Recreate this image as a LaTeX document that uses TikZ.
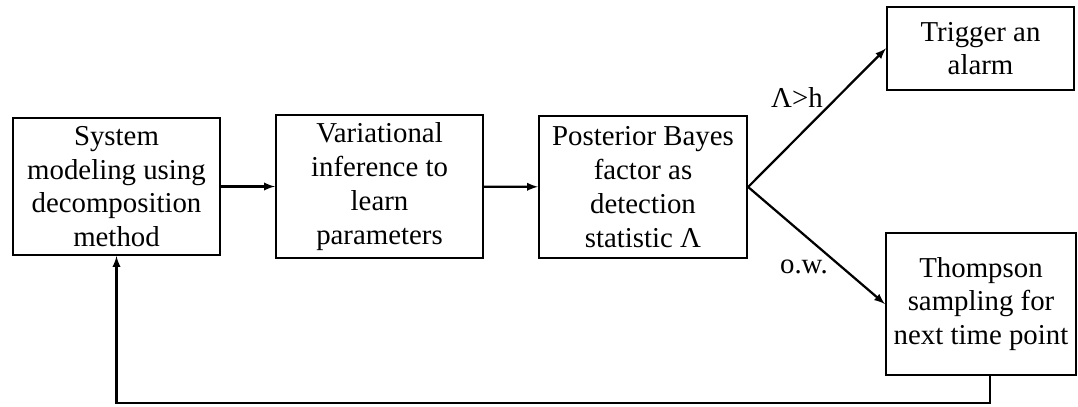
\documentclass[tikz,border=0pt]{standalone}
\usepackage{fontspec}
\setmainfont{Liberation Serif}
\usepackage{tikz}
\usetikzlibrary{shapes,arrows}
\usetikzlibrary{calc}
\usetikzlibrary{positioning}

\begin{document}
\begin{tikzpicture}[x=0.025cm, y=0.025cm,
	block_node/.style={rectangle,draw,line width=1.6pt,align=center,inner sep=1pt,font=\fontsize{20.5}{24}\selectfont},
	label_node/.style={font=\fontsize{20.5}{24}\selectfont},
	flow_line/.style={draw,line width=1.6pt,-latex}]
				
				\useasboundingbox (0,0) rectangle (1078,407);
				
				\node[block_node, minimum width=207*0.025cm, minimum height=137*0.025cm] (1) at (116.5, 220.5) {System\\modeling using\\decomposition\\method};
				\node[block_node, minimum width=207*0.025cm, minimum height=143*0.025cm] (2) at (379.5, 220.5) {Variational\\inference to\\learn\\parameters};
				\node[block_node, minimum width=208*0.025cm, minimum height=142*0.025cm] (3) at (643, 220) {Posterior Bayes\\factor as\\detection\\statistic Λ};
				\node[block_node, minimum width=187*0.025cm, minimum height=83*0.025cm] (4) at (980.5, 358.5) {Trigger an\\alarm};
				\node[block_node, minimum width=190*0.025cm, minimum height=142*0.025cm] (5) at (981, 103) {Thompson\\sampling for\\next time point};
				
				\node[label_node] (gt) at (797, 309) {Λ>h};
				\node[label_node] (ow) at (804, 140) {o.w.};
				
				\coordinate (fb) at (990, 4);
				
				\path[every edge/.style={flow_line}]
				(1) edge (2)
				(2) edge (3)
				(3.east) edge (4.west)
				(3.east) edge (5.west);
				
				\draw[flow_line] (5.south -| fb) -- (fb) -| (1.south);
			\end{tikzpicture}
\end{document}
